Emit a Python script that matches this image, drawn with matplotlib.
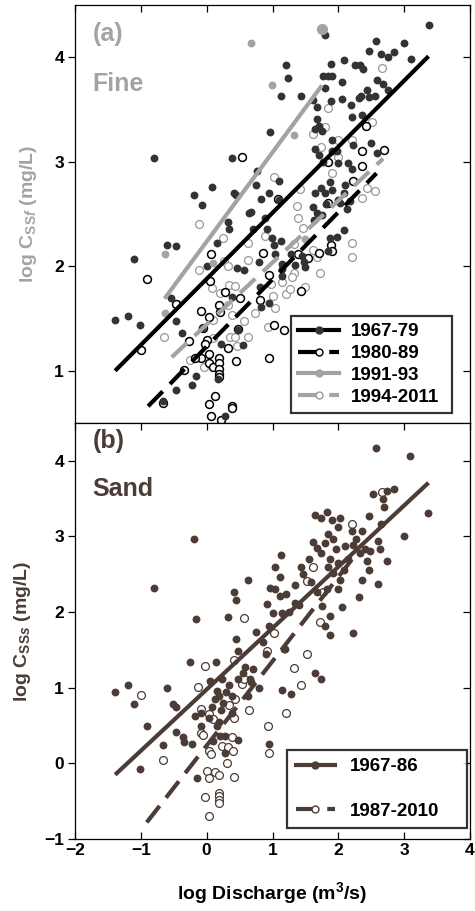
import matplotlib
matplotlib.use("Agg")
import matplotlib.pyplot as plt
from matplotlib.lines import Line2D
import numpy as np

plt.rcParams["font.family"] = ["Liberation Sans", "DejaVu Sans"]
plt.rcParams["font.weight"] = "bold"
plt.rcParams["mathtext.fontset"] = "custom"
plt.rcParams["mathtext.rm"] = "Liberation Sans:bold"
plt.rcParams["mathtext.it"] = "Liberation Sans:bold:italic"
plt.rcParams["mathtext.bf"] = "Liberation Sans:bold"

DARK = "#333333"
GRAY = "#a3a3a3"
BROWN = "#4b3c36"

# ---- (a) fine sediment: log Q vs log C ----
f79_x = [-1.39, -1.20, -1.01, -1.11, -0.80, -0.61, -0.46, -0.54, -0.46, -0.37, -0.20, -0.07, 0.08, 0.15,
         0.00, -0.07, -0.16, -0.22, -0.46, 0.22, 0.17, 0.28, 0.33, 0.34, 0.38, 0.42, 0.45, 0.46, 0.38, 0.57,
         0.55, 0.65, 0.67, 0.76, 0.75, 0.71, 0.79, 0.81, 0.83, 0.83, 0.94, 0.96, 0.88, 0.91, 0.99, 1.02,
         1.04, 1.10, 1.13, 1.14, 1.15, 1.14, 0.95, 1.13, 1.20, 1.24, 1.43, 1.28, 1.34, 1.48, 1.62, 1.67,
         1.67, 1.65, 1.70, 1.75, 1.80, 1.77, 1.85, 1.89, 1.91, 1.80, 1.89, 2.08, 2.05, 2.06, 2.19, 2.20,
         2.25, 2.33, 2.37, 2.31, 2.43, 2.47, 2.57, 2.65, 2.75, 2.84, 3.00, 3.10, 3.37, 2.58, 2.68, 2.75,
         2.35, 2.47, 2.55, 2.50, 2.58, 2.36, 2.23, 1.65, 1.70, 1.77, 1.90, 1.90, 1.98, 2.00, 2.15, 2.20,
         2.10, 2.08, 2.13, 2.18, 2.03, 1.88, 1.90, 1.80, 1.73, 1.65, 1.62, 1.67, 1.75, 1.82, 2.00, 1.88,
         1.98, 2.08, 1.85, -0.67, 0.48, 1.50, 1.63, 1.10, 1.45]
f79_y = [1.49, 1.52, 1.44, 2.07, 3.04, 2.20, 2.19, 1.70, 1.48, 1.36, 2.68, 2.59, 2.76, 2.22,
         2.00, 1.41, 0.95, 0.86, 0.82, 1.26, 0.92, 0.57, 2.42, 2.36, 3.04, 2.70, 2.68, 1.98, 1.71, 1.96,
         1.25, 2.51, 2.52, 2.91, 2.78, 2.36, 2.04, 1.80, 1.61, 2.64, 2.70, 3.28, 2.46, 2.36, 2.27, 2.20,
         2.12, 2.82, 2.24, 2.02, 1.97, 1.91, 1.65, 3.63, 3.93, 3.80, 3.63, 2.12, 2.01, 2.04, 3.59, 3.52,
         3.41, 3.31, 3.34, 3.29, 4.21, 3.82, 3.82, 3.94, 3.82, 3.71, 3.58, 3.97, 3.76, 3.60, 3.54, 3.43,
         3.93, 3.93, 3.89, 3.61, 3.69, 4.06, 4.16, 4.03, 4.00, 4.05, 4.14, 3.98, 4.31, 3.78, 3.74, 3.69,
         3.63, 3.62, 3.63, 3.18, 3.08, 3.45, 3.16, 3.12, 3.06, 3.00, 3.21, 3.10, 3.10, 2.99, 2.99, 2.93,
         2.78, 2.70, 2.55, 2.62, 2.61, 2.81, 2.73, 2.70, 2.75, 2.70, 2.57, 2.51, 2.49, 2.60, 2.63, 2.27,
         2.28, 2.35, 2.15, 0.71, 1.39, 1.99, 2.44, 2.63, 2.10]

f89_x = [-0.91, -1.00, -0.67, -0.47, -0.34, -0.27, -0.08, 0.04, -0.05, -0.08, -0.18, 0.00, -0.02, 0.04,
         0.03, 0.10, 0.18, 0.18, 0.18, 0.18, 0.19, 0.13, 0.04, 0.07, 0.22, 0.38, 0.38, 0.44, 0.32, 0.19,
         0.20, 0.07, 0.05, 0.28, 0.50, 0.53, 0.81, 0.85, 0.95, 1.03, 1.17, 0.94, 1.44, 1.54, 1.71, 1.89,
         1.90, 1.84, 2.22, 2.36, 2.36, 2.42, 2.69, 1.09, 1.39, 1.85, 0.48]
f89_y = [1.88, 1.20, 0.69, 1.64, 1.01, 1.28, 1.57, 1.51, 1.41, 1.12, 1.12, 1.29, 1.26, 1.16,
         1.07, 1.04, 1.12, 1.07, 1.02, 0.97, 0.94, 0.76, 0.68, 0.57, 0.53, 0.66, 0.64, 1.09, 1.22, 1.63,
         1.56, 2.12, 1.86, 1.75, 1.70, 3.05, 1.68, 2.13, 1.12, 1.44, 1.39, 1.92, 1.76, 2.08, 2.13, 2.20,
         2.15, 3.00, 2.82, 3.10, 2.96, 3.34, 3.11, 2.64, 2.12, 2.61, 1.40]

f93_x = [0.67, 1.75, 0.99, 1.32, -0.64, -0.64, 0.10, 1.50]
f93_y = [4.14, 4.27, 3.73, 3.26, 2.12, 1.55, 2.03, 2.26]

f11_x = [-0.65, -0.45, -0.11, -0.12, 0.08, 0.10, 0.10, -0.04, -0.25, 0.20, 0.25, 0.26, 0.32, 0.34,
         0.43, 0.33, 0.38, 0.36, 0.43, 0.46, 0.56, 0.63, 0.73, 0.63, 0.63, 0.89, 0.93, 1.03, 1.04, 1.01,
         0.97, 1.20, 1.26, 1.37, 1.38, 1.32, 1.32, 1.50, 1.47, 1.62, 1.67, 1.72, 1.61, 1.80, 1.85, 1.90,
         2.00, 1.99, 2.20, 2.20, 2.36, 2.44, 2.56, 2.51, 2.66, 1.74, 2.20, 1.42, 1.15, 1.30]
f11_y = [1.32, 1.64, 2.40, 1.96, 1.79, 1.49, 1.31, 1.04, 1.10, 1.74, 2.27, 2.05, 2.00, 1.82,
         1.81, 1.63, 1.53, 1.32, 1.32, 1.24, 1.48, 1.32, 1.55, 2.06, 2.22, 2.29, 1.42, 2.85, 1.60, 1.72,
         1.83, 1.73, 1.78, 2.58, 2.46, 2.21, 1.94, 1.80, 2.37, 2.16, 2.09, 1.94, 3.27, 3.33, 3.51, 2.89,
         3.21, 3.05, 2.22, 2.09, 2.65, 2.75, 2.72, 3.38, 3.90, 3.14, 3.21, 2.74, 1.85, 1.90]

# fitted lines (start / end points in log units)
fit_a = {
    "1967-79": ([-1.39, 3.37], [1.00, 4.01]),
    "1980-89": ([-0.89, 2.58], [0.66, 2.89]),
    "1991-93": ([-0.64, 1.75], [1.69, 3.73]),
    "1994-2011": ([-0.53, 2.68], [1.13, 3.03]),
}

# ---- (b) sand ----
s86_x = [-1.40, -1.20, -1.11, -1.01, -0.91, -0.80, -0.67, -0.61, -0.51, -0.47, -0.47, -0.36, -0.34, -0.26,
         -0.22, -0.20, -0.16, -0.18, -0.15, -0.09, -0.08, 0.03, 0.05, 0.14, 0.15, 0.18, 0.23, 0.25, 0.15,
         0.20, 0.28, 0.28, 0.32, 0.34, 0.38, 0.42, 0.45, 0.45, 0.47, 0.47, 0.47, 0.38, 0.63, 0.58, 0.66,
         0.68, 0.75, 0.79, 0.63, 0.91, 0.95, 0.96, 0.95, 1.01, 1.04, 1.04, 1.11, 1.13, 1.11, 1.14, 1.17,
         1.14, 1.19, 1.20, 1.28, 1.34, 1.34, 1.44, 1.47, 1.65, 1.74, 1.65, 1.73, 1.83, 1.90, 2.02, 2.00,
         1.61, 1.67, 1.55, 1.73, 1.80, 1.85, 1.92, 1.97, 1.87, 1.85, 1.92, 2.00, 2.03, 2.08, 2.10, 2.20,
         2.23, 2.27, 2.36, 2.33, 2.40, 2.43, 2.47, 2.48, 2.36, 2.32, 2.23, 2.05, 1.87, 1.87, 1.80, 1.75,
         1.83, 1.67, 2.00, 2.46, 2.53, 2.61, 2.64, 2.65, 2.68, 2.69, 2.74, 2.84, 2.74, 2.60, 3.00, 3.09,
         3.36, 2.57, 0.08, 0.12, 0.22, 0.18, 0.30, 0.10, 0.55, 0.70, 0.85, 0.90, 1.25, 1.40, 1.58, 2.15]
s86_y = [0.94, 1.04, 0.79, -0.08, 0.50, 2.32, 0.24, 1.00, 0.79, 0.74, 0.41, 0.35, 0.28, 1.34,
         0.25, 2.97, 1.91, 0.62, -0.19, 0.50, 0.67, 0.60, 1.09, 1.34, 0.96, 0.89, 1.11, 0.80, 0.49,
         0.36, 0.36, 0.14, 1.93, 1.03, 0.89, 2.27, 2.16, 1.64, 1.48, 1.11, 0.31, 0.67, 2.43, 1.28, 1.11,
         1.07, 1.74, 1.00, 0.89, 2.11, 0.25, 2.32, 1.81, 1.99, 2.59, 2.31, 2.21, 2.76, 2.47, 1.99, 1.51,
         0.97, 1.51, 2.24, 0.92, 2.36, 2.12, 2.59, 2.50, 1.19, 1.11, 3.28, 3.25, 3.32, 3.22, 3.25, 3.13,
         2.93, 2.85, 2.70, 2.78, 2.92, 3.03, 2.97, 2.83, 2.70, 2.60, 2.52, 2.65, 2.43, 2.56, 2.87, 3.07,
         2.89, 2.96, 3.07, 2.78, 2.83, 2.67, 2.56, 2.81, 2.42, 2.20, 1.73, 2.07, 1.95, 1.70, 1.81, 2.08,
         2.30, 2.26, 2.30, 3.27, 3.56, 2.94, 2.84, 3.17, 3.50, 3.39, 3.60, 3.63, 2.68, 2.37, 3.01, 4.06,
         3.31, 4.17, 0.75, 0.85, 0.70, 0.55, 0.95, 0.30, 1.20, 1.25, 1.60, 1.45, 2.00, 2.10, 2.40, 2.70]

s10_x = [-1.00, -0.67, -0.13, -0.03, -0.08, -0.09, -0.06, 0.04, 0.10, 0.04, 0.06, 0.00, 0.04, 0.12,
         0.19, -0.03, 0.04, 0.19, 0.19, 0.18, 0.18, 0.23, 0.31, 0.33, 0.40, 0.41, 0.39, 0.42, 0.43, 0.34,
         0.41, 0.57, 0.65, 0.53, 0.56, 0.93, 0.95, 1.03, 1.21, 1.32, 1.43, 1.53, 1.53, 1.62, 1.72, 2.20,
         2.66, 1.77, 0.91]
s10_y = [0.91, 0.05, 1.01, 1.29, 0.72, 0.40, 0.37, 0.65, 0.59, 0.17, 0.13, -0.10, -0.20, -0.12,
         -0.15, -0.44, -0.70, -0.39, -0.43, -0.48, -0.52, 0.23, 0.00, 0.22, 0.16, -0.18, 0.35, 0.60, 0.85,
         0.77, 1.37, 1.92, 0.71, 1.05, 1.11, 0.50, 0.14, 1.72, 0.66, 1.26, 1.03, 1.44, 2.41, 2.59, 1.87,
         3.17, 3.59, 2.26, 1.48]

fit_b = {
    "1967-86": ([-1.39, 3.37], [-0.15, 3.71]),
    "1987-2010": ([-0.91, 2.30], [-0.78, 2.80]),
}

fig = plt.figure(figsize=(4.75, 9.11), dpi=100)
ax1 = fig.add_axes([75 / 475, 1 - 423 / 911, 395 / 475, 418 / 911])
ax2 = fig.add_axes([75 / 475, 1 - 839 / 911, 395 / 475, 416 / 911])

ms = 32
# panel a points
ax1.scatter(f11_x, f11_y, s=ms, facecolors="white", edgecolors="#999999", linewidths=0.9, zorder=2)
ax1.scatter(f89_x, f89_y, s=ms, facecolors="white", edgecolors="black", linewidths=1.1, zorder=2)
ax1.scatter(f79_x, f79_y, s=ms, color=DARK, linewidths=0, zorder=3)
ax1.scatter(f93_x, f93_y, s=ms, color=GRAY, linewidths=0, zorder=3)
ax1.scatter([1.75], [4.27], s=65, color=GRAY, linewidths=0, zorder=3)

styles_a = {
    "1967-79": dict(color="black", ls="-", marker="o", mfc=DARK, mec=DARK),
    "1980-89": dict(color="black", ls=(0, (5, 2.5)), marker="o", mfc="white", mec="black"),
    "1991-93": dict(color=GRAY, ls="-", marker="o", mfc=GRAY, mec=GRAY),
    "1994-2011": dict(color=GRAY, ls=(0, (5, 2.5)), marker="o", mfc="white", mec="#999999"),
}
handles = []
for name, (xs, ys) in fit_a.items():
    st = styles_a[name]
    ax1.plot(xs, ys, color=st["color"], ls=st["ls"], lw=3, solid_capstyle="butt",
             dash_capstyle="butt", zorder=4)
    handles.append(Line2D([], [], color=st["color"], ls=st["ls"], lw=3, marker="o", ms=5,
                          mfc=st["mfc"], mec=st["mec"], label=name))

leg = ax1.legend(handles=handles, loc="lower left", bbox_to_anchor=(0.547, 0.024, 0.407, 0.24),
                 mode="expand", borderaxespad=0,
                 frameon=True, fancybox=False, handlelength=2.2, handletextpad=0.6,
                 labelspacing=0.25, borderpad=0.38, prop={"weight": "bold", "size": 13.5})
leg.get_frame().set_edgecolor("black")
leg.get_frame().set_linewidth(1.6)

ax1.text(0.045, 0.96, "(a)", transform=ax1.transAxes, color=GRAY, fontsize=18,
         fontweight="bold", va="top", ha="left")
ax1.text(0.045, 0.84, "Fine", transform=ax1.transAxes, color=GRAY, fontsize=18,
         fontweight="bold", va="top", ha="left")
ax1.set_ylabel(r"log $\mathrm{C}_{\mathrm{SS}\mathit{f}}$ (mg/L)", color=GRAY, fontsize=14,
               fontweight="bold", labelpad=11)

# panel b points
ax2.scatter(s10_x, s10_y, s=ms, facecolors="white", edgecolors=BROWN, linewidths=0.9, zorder=2)
ax2.scatter(s86_x, s86_y, s=ms, color=BROWN, linewidths=0, zorder=3)

styles_b = {
    "1967-86": dict(ls="-", mfc=BROWN),
    "1987-2010": dict(ls=(0, (5, 2.5)), mfc="white"),
}
handles = []
for name, (xs, ys) in fit_b.items():
    st = styles_b[name]
    ax2.plot(xs, ys, color=BROWN, ls=st["ls"], lw=3, solid_capstyle="butt",
             dash_capstyle="butt", zorder=4)
    handles.append(Line2D([], [], color=BROWN, ls=st["ls"], lw=3, marker="o", ms=5,
                          mfc=st["mfc"], mec=BROWN, label=name))

leg = ax2.legend(handles=handles, loc="lower left", bbox_to_anchor=(0.537, 0.026, 0.455, 0.2),
                 mode="expand", borderaxespad=0,
                 frameon=True, fancybox=False, handlelength=2.1, handletextpad=0.8,
                 labelspacing=1.45, borderpad=0.45, prop={"weight": "bold", "size": 13.5})
leg.get_frame().set_edgecolor("black")
leg.get_frame().set_linewidth(1.6)

ax2.text(0.045, 0.985, "(b)", transform=ax2.transAxes, color=BROWN, fontsize=18,
         fontweight="bold", va="top", ha="left")
ax2.text(0.045, 0.87, "Sand", transform=ax2.transAxes, color=BROWN, fontsize=18,
         fontweight="bold", va="top", ha="left")
ax2.set_ylabel(r"log $\mathrm{C}_{\mathrm{SS}\mathit{s}}$ (mg/L)", color=BROWN, fontsize=14,
               fontweight="bold", labelpad=8)
ax2.set_xlabel(r"log Discharge (m$^\mathbf{3}$/s)", fontsize=14, fontweight="bold", labelpad=16)

for ax in (ax1, ax2):
    ax.set_xlim(-2, 4)
    ax.set_xticks(np.arange(-2, 5, 1))
    for sp in ax.spines.values():
        sp.set_linewidth(0.9)
    ax.tick_params(axis="y", left=True, right=True, direction="out", length=5,
                   width=0.9, labelsize=12.5, pad=3)
    ax.tick_params(axis="x", top=True, direction="in", length=5, width=0.9, labelsize=12.5)
    for t in ax.get_yticklabels() + ax.get_xticklabels():
        t.set_fontweight("bold")

ax1.set_ylim(0.5, 4.5)
ax1.set_yticks([1, 2, 3, 4])
ax1.tick_params(axis="x", bottom=False, labelbottom=False)
ax2.set_ylim(-1, 4.5)
ax2.set_yticks([-1, 0, 1, 2, 3, 4])
ax2.tick_params(axis="x", pad=3)

# right-side ticks point inward, left ones outward
for ax in (ax1, ax2):
    for tk in ax.yaxis.get_major_ticks():
        tk.tick2line.set_marker(matplotlib.lines.TICKLEFT)

fig.savefig("out.png", dpi=100)
